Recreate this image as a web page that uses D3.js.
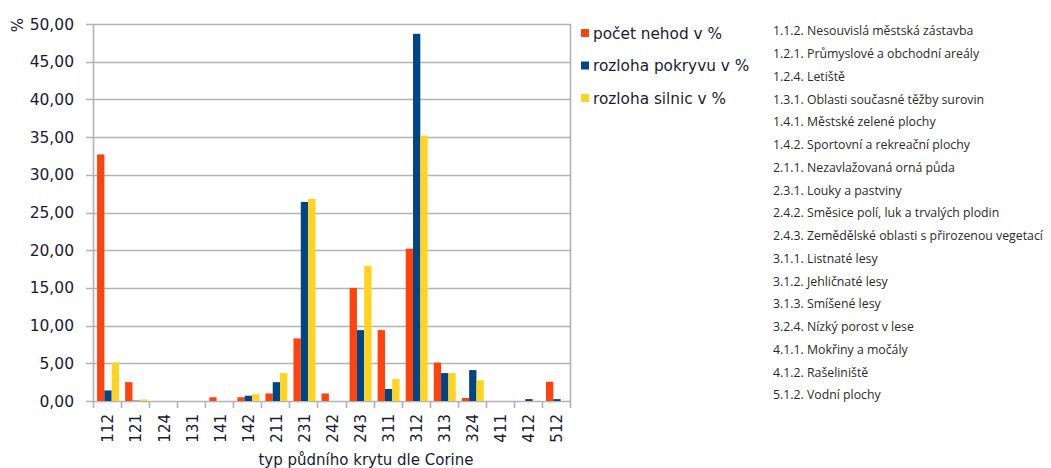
<!DOCTYPE html>
<html>
<head>
<meta charset="utf-8">
<script src="https://cdn.jsdelivr.net/npm/d3@7"></script>
<style>
  body { margin: 0; background: #fff; }
  svg { display: block; }
</style>
</head>
<body>
<svg id="chart"></svg>
<script>
const categories = ["112","121","124","131","141","142","211","231","242","243","311","312","313","324","411","412","512"];
const seriesNames = ["počet nehod v %", "rozloha pokryvu v %", "rozloha silnic v %"];
const nehody  = [32.7, 2.5, 0, 0, 0.5, 0.5, 1.0, 8.3, 1.0, 15.0, 9.4, 20.2, 5.1, 0.4, 0, 0, 2.55];
const pokryv  = [1.4, 0.05, 0, 0, 0, 0.7, 2.5, 26.4, 0, 9.4, 1.6, 48.7, 3.7, 4.1, 0, 0.25, 0.25];
const silnice = [5.1, 0.2, 0, 0, 0, 0.9, 3.7, 26.8, 0, 17.9, 2.9, 35.2, 3.7, 2.75, 0, 0, 0];
const yTicks = [0, 5, 10, 15, 20, 25, 30, 35, 40, 45, 50];
const codeLabels = [
  "1.1.2. Nesouvislá městská zástavba",
  "1.2.1. Průmyslové a obchodní areály",
  "1.2.4. Letiště",
  "1.3.1. Oblasti současné těžby surovin",
  "1.4.1. Městské zelené plochy",
  "1.4.2. Sportovní a rekreační plochy",
  "2.1.1. Nezavlažovaná orná půda",
  "2.3.1. Louky a pastviny",
  "2.4.2. Směsice polí, luk a trvalých plodin",
  "2.4.3. Zemědělské oblasti s přirozenou vegetací",
  "3.1.1. Listnaté lesy",
  "3.1.2. Jehličnaté lesy",
  "3.1.3. Smíšené lesy",
  "3.2.4. Nízký porost v lese",
  "4.1.1. Mokřiny a močály",
  "4.1.2. Rašeliniště",
  "5.1.2. Vodní plochy"
];

const width = 1051, height = 468;
const colors = ["#ff420e", "#004586", "#ffd320"];
const gridColor = "#b3b3b3";
const textColor = "#1a1a33";
const font = "'DejaVu Sans', Verdana, sans-serif";

const svg = d3.select("#chart").attr("width", width).attr("height", height)
  .style("font-family", font);

const plot = { left: 93, right: 570, top: 24, bottom: 401 };

const x = d3.scaleBand().domain(categories).range([plot.left, plot.right]).padding(0);
const xs = d3.scaleBand().domain(d3.range(3)).range([0, x.bandwidth()]).paddingOuter(0.42).paddingInner(0);
const y = d3.scaleLinear().domain([0, 50]).range([plot.bottom, plot.top]);

const table = categories.map((c, i) => ({ cat: c, vals: [nehody[i], pokryv[i], silnice[i]] }));

// grid lines
svg.append("g").selectAll("line").data(yTicks).join("line")
  .attr("x1", plot.left - 7).attr("x2", plot.right)
  .attr("y1", d => Math.round(y(d)) + 0.5).attr("y2", d => Math.round(y(d)) + 0.5)
  .attr("stroke", gridColor).attr("stroke-width", 1.6);

// left axis and right border
svg.append("line").attr("x1", plot.left + 0.5).attr("x2", plot.left + 0.5)
  .attr("y1", plot.top).attr("y2", plot.bottom + 7)
  .attr("stroke", gridColor).attr("stroke-width", 1.6);
svg.append("line").attr("x1", plot.right + 0.5).attr("x2", plot.right + 0.5)
  .attr("y1", plot.top).attr("y2", plot.bottom + 7)
  .attr("stroke", gridColor).attr("stroke-width", 1.6);

// x ticks at band edges
svg.append("g").selectAll("line").data(categories.slice(1)).join("line")
  .attr("x1", d => Math.round(x(d)) + 0.5).attr("x2", d => Math.round(x(d)) + 0.5)
  .attr("y1", plot.bottom).attr("y2", plot.bottom + 7)
  .attr("stroke", gridColor).attr("stroke-width", 1.6);

// bars
const groups = svg.append("g").selectAll("g").data(table).join("g")
  .attr("transform", d => `translate(${x(d.cat) + 1},0)`);
groups.selectAll("rect").data(d => d.vals.map((v, k) => ({ v, k }))).join("rect")
  .attr("x", d => xs(d.k))
  .attr("width", xs.bandwidth())
  .attr("y", d => y(d.v))
  .attr("height", d => y(0) - y(d.v))
  .attr("fill", d => colors[d.k]);

// y tick labels
svg.append("g").selectAll("text").data(yTicks).join("text")
  .attr("x", 74).attr("y", d => y(d)).attr("dy", "0.36em")
  .attr("text-anchor", "end")
  .attr("fill", textColor).style("font-size", "15.5px")
  .text(d => d3.format(".2f")(d).replace(".", ","));

// y unit label
svg.append("text")
  .attr("transform", "translate(23,25) rotate(-90)")
  .attr("text-anchor", "middle")
  .attr("fill", textColor).style("font-size", "15px")
  .text("%");

// x tick labels
svg.append("g").selectAll("text").data(categories).join("text")
  .attr("transform", d => `translate(${x(d) + x.bandwidth() / 2 + 1},${plot.bottom + 13}) rotate(-90)`)
  .attr("dy", "0.36em")
  .attr("text-anchor", "end")
  .attr("fill", textColor).style("font-size", "15px")
  .text(d => d);

// x axis title
svg.append("text")
  .attr("x", 366).attr("y", 465)
  .attr("text-anchor", "middle")
  .attr("fill", textColor).style("font-size", "15px")
  .text("typ půdního krytu dle Corine");

// series legend
const legend = svg.append("g").selectAll("g").data(seriesNames).join("g")
  .attr("transform", (d, i) => `translate(581,${33 + i * 32.5})`);
legend.append("rect").attr("x", 0).attr("y", -4).attr("width", 8).attr("height", 8)
  .attr("fill", (d, i) => colors[i]);
legend.append("text").attr("x", 12).attr("dy", "0.36em")
  .attr("fill", textColor).style("font-size", "15.3px")
  .text(d => d);

// land cover code list
svg.append("g").selectAll("text").data(codeLabels).join("text")
  .attr("x", 773).attr("y", (d, i) => 31 + i * 22.75).attr("dy", "0.35em")
  .attr("fill", "#2b2b2b")
  .style("font-family", "'Open Sans', 'Noto Sans', sans-serif")
  .style("font-size", "12.3px")
  .text(d => d);
</script>
</body>
</html>
